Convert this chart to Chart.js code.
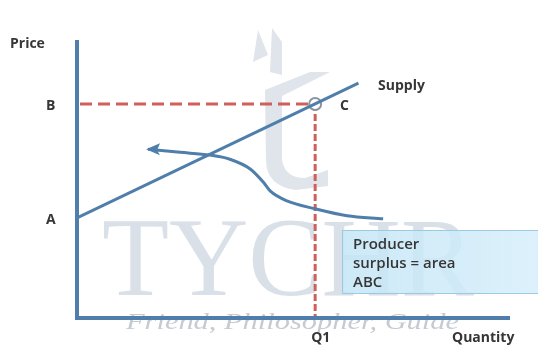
<!DOCTYPE html>
<html>
<head>
<meta charset="utf-8">
<script src="https://cdn.jsdelivr.net/npm/chart.js@4.4.1/dist/chart.umd.min.js"></script>
<style>
  html, body { margin: 0; padding: 0; background: #fff; }
  #wrap { width: 538px; height: 349px; position: relative; }
  canvas { filter: blur(0.5px); }
</style>
</head>
<body>
<div id="wrap"><canvas id="surplusChart" width="538" height="349"></canvas></div>
<script>
// price levels and quantity
const priceLabels = ['A', 'B'];
const priceLevels = [3.6, 7.7];
const quantityLabel = 'Q1';
const quantityQ1 = 5.5;

// supply line (quantity, price)
const supplyX = [0, 6.5];
const supplyY = [3.6, 8.45];

// curved arrow pointing left
const arrowX = [1.64, 2.38, 3.07, 3.53, 4.0, 4.3, 4.46, 4.85, 5.5, 6.24, 7.07];
const arrowY = [6.07, 5.96, 5.86, 5.71, 5.36, 4.89, 4.57, 4.21, 3.93, 3.68, 3.57];

const boxLines = ['Producer', 'surplus = area', 'ABC'];

const toPoints = (xs, ys) => xs.map((x, i) => ({x: x, y: ys[i]}));

const AXIS = '#4f7eab';
const RED = '#cf5f5a';
const TEXT = '#363636';
const FONT = '"Open Sans", "Liberation Sans", sans-serif';

// watermark, axes, guides and labels
const decor = {
  id: 'decor',
  beforeDatasetsDraw(chart) {
    const ctx = chart.ctx;
    const xs = chart.scales.x, ys = chart.scales.y;
    ctx.save();
    // watermark
    ctx.fillStyle = 'rgba(165,182,200,0.42)';
    ctx.font = '112px "Liberation Serif", "DejaVu Serif", serif';
    ctx.textBaseline = 'alphabetic';
    const w = ctx.measureText('TYCHR').width;
    ctx.translate(102, 295);
    ctx.scale(372 / w, 1);
    ctx.fillText('TYCHR', 0, 0);
    ctx.restore();

    ctx.save();
    // logo shapes
    ctx.fillStyle = 'rgba(175,190,205,0.4)';
    ctx.beginPath();
    ctx.moveTo(258, 30); ctx.lineTo(268, 55); ctx.lineTo(253, 62); ctx.closePath(); ctx.fill();
    ctx.beginPath();
    ctx.moveTo(272, 28); ctx.lineTo(282, 42); ctx.lineTo(282, 75); ctx.lineTo(270, 72); ctx.closePath(); ctx.fill();
    ctx.beginPath();
    ctx.moveTo(265, 90); ctx.lineTo(310, 72); ctx.lineTo(330, 72); ctx.lineTo(282, 96);
    ctx.lineTo(282, 160); ctx.quadraticCurveTo(285, 178, 305, 178); ctx.lineTo(328, 170);
    ctx.lineTo(328, 186); ctx.lineTo(296, 190); ctx.quadraticCurveTo(266, 186, 266, 160);
    ctx.closePath(); ctx.fill();

    // tagline
    ctx.save();
    ctx.fillStyle = 'rgba(140,152,168,0.5)';
    ctx.font = 'italic 24px "Liberation Serif", "DejaVu Serif", serif';
    const tw = ctx.measureText('Friend, Philosopher, Guide').width;
    ctx.translate(126, 329);
    ctx.scale(333 / tw, 1);
    ctx.fillText('Friend, Philosopher, Guide', 0, 0);
    ctx.restore();

    // text box
    const bx = 342, by = 230;
    const g = ctx.createLinearGradient(bx, 0, 538, 0);
    g.addColorStop(0, 'rgba(196,230,246,0.85)');
    g.addColorStop(1, 'rgba(214,238,250,0.85)');
    ctx.fillStyle = g;
    ctx.fillRect(bx, by, 196, 64);
    ctx.strokeStyle = 'rgba(150,200,225,0.9)';
    ctx.lineWidth = 1;
    ctx.strokeRect(bx + 0.5, by + 0.5, 196, 63);
    ctx.fillStyle = TEXT;
    ctx.font = '600 15px ' + FONT;
    boxLines.forEach((t, i) => ctx.fillText(t, 353, 249 + i * 19));

    // dashed guides to C
    const cx = xs.getPixelForValue(quantityQ1);
    const cy = ys.getPixelForValue(priceLevels[1]);
    const x0 = xs.getPixelForValue(0), y0 = ys.getPixelForValue(0);
    ctx.strokeStyle = RED;
    ctx.lineWidth = 3;
    ctx.setLineDash([12, 6]);
    ctx.beginPath(); ctx.moveTo(x0 + 3, cy); ctx.lineTo(cx, cy); ctx.stroke();
    ctx.setLineDash([7, 3]);
    ctx.beginPath(); ctx.moveTo(cx, cy); ctx.lineTo(cx, y0); ctx.stroke();
    ctx.setLineDash([]);

    // axes
    ctx.strokeStyle = AXIS;
    ctx.lineWidth = 4;
    ctx.beginPath();
    ctx.moveTo(x0, ys.getPixelForValue(ys.max));
    ctx.lineTo(x0, y0);
    ctx.lineTo(xs.getPixelForValue(xs.max), y0);
    ctx.stroke();

    // axis labels
    ctx.fillStyle = TEXT;
    ctx.font = 'bold 14px ' + FONT;
    ctx.textBaseline = 'middle';
    ctx.fillText('Price', 10, 44);
    ctx.fillText('Quantity', 452, 338);
    ctx.fillText(quantityLabel, cx - 4, 338);
    priceLabels.forEach((t, i) => ctx.fillText(t, 46, ys.getPixelForValue(priceLevels[i]) + 2));
    ctx.fillText('Supply', 378, 86);
    ctx.fillText('C', 340, cy + 2);
    ctx.restore();
  },
  afterDatasetsDraw(chart) {
    const ctx = chart.ctx;
    const xs = chart.scales.x, ys = chart.scales.y;
    // arrow head on the curve
    const px = xs.getPixelForValue(arrowX[0]), py = ys.getPixelForValue(arrowY[0]);
    ctx.save();
    ctx.fillStyle = AXIS;
    ctx.beginPath();
    ctx.moveTo(px - 2, py);
    ctx.lineTo(px + 12, py - 6);
    ctx.lineTo(px + 9, py + 1);
    ctx.lineTo(px + 12, py + 6);
    ctx.closePath();
    ctx.fill();
    ctx.restore();
  }
};

new Chart(document.getElementById('surplusChart'), {
  type: 'scatter',
  data: {
    datasets: [
      {
        data: toPoints(supplyX, supplyY), showLine: true,
        borderColor: AXIS, borderWidth: 3, pointRadius: 0
      },
      {
        data: toPoints(arrowX, arrowY), showLine: true, cubicInterpolationMode: 'monotone',
        borderColor: AXIS, borderWidth: 3, pointRadius: 0
      },
      {
        data: [{x: quantityQ1, y: priceLevels[1]}],
        pointRadius: 6, borderWidth: 2, borderColor: '#8a95a3', backgroundColor: '#ffffff'
      }
    ]
  },
  options: {
    responsive: false,
    animation: false,
    layout: { padding: { left: 77, right: 28, top: 40, bottom: 31 } },
    plugins: { legend: { display: false }, tooltip: { enabled: false } },
    scales: {
      x: { type: 'linear', min: 0, max: 10, display: false },
      y: { type: 'linear', min: 0, max: 10, display: false }
    }
  },
  plugins: [decor]
});
</script>
</body>
</html>
